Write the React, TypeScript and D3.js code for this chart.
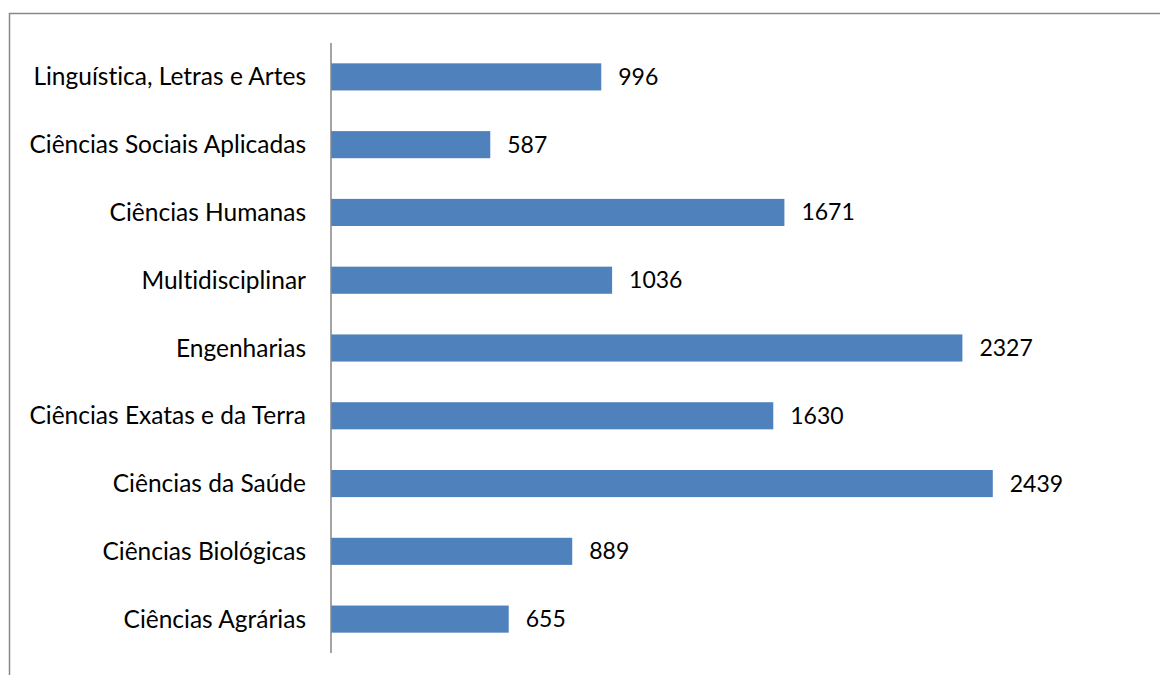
import React from "react";
import * as d3 from "d3";

const categories = [
  "Linguística, Letras e Artes",
  "Ciências Sociais Aplicadas",
  "Ciências Humanas",
  "Multidisciplinar",
  "Engenharias",
  "Ciências Exatas e da Terra",
  "Ciências da Saúde",
  "Ciências Biológicas",
  "Ciências Agrárias",
];
const values = [996, 587, 1671, 1036, 2327, 1630, 2439, 889, 655];

const W = 1160;
const H = 675;
const axisX = 331;
const top = 43;
const bottom = 653;

export default function App() {
  const x = d3.scaleLinear().domain([0, 3000]).range([axisX, axisX + 814]);
  const y = d3
    .scaleBand<string>()
    .domain(categories)
    .range([top, bottom])
    .paddingInner(0.6)
    .paddingOuter(0.3);
  const font = "Lato, Calibri, 'Open Sans', sans-serif";
  const textStyle = { fontVariantLigatures: "none" as const };
  return (
    <svg
      width={W}
      height={H}
      style={{ position: "absolute", left: 0, top: 0, background: "#fff" }}
    >
      <rect x={9.5} y={13.5} width={1200} height={700} fill="#fff" stroke="#888" strokeWidth={1.5} />
      {categories.map((c, i) => {
        const yy = y(c)!;
        const bw = y.bandwidth();
        return (
          <g key={c}>
            <rect x={axisX} y={yy} width={x(values[i]) - axisX} height={bw} fill="#4F81BD" />
            <text
              x={axisX - 25}
              y={yy + bw / 2}
              dy="0.35em"
              textAnchor="end"
              fontFamily={font}
              fontSize={24.5}
              fill="#000"
              style={textStyle}
            >
              {c}
            </text>
            <text
              x={x(values[i]) + 17}
              y={yy + bw / 2}
              dy="0.35em"
              textAnchor="start"
              fontFamily={font}
              fontSize={23}
              fill="#000"
              style={textStyle}
            >
              {values[i]}
            </text>
          </g>
        );
      })}
      <line x1={axisX} x2={axisX} y1={top} y2={bottom} stroke="#868686" strokeWidth={1.5} />
    </svg>
  );
}
